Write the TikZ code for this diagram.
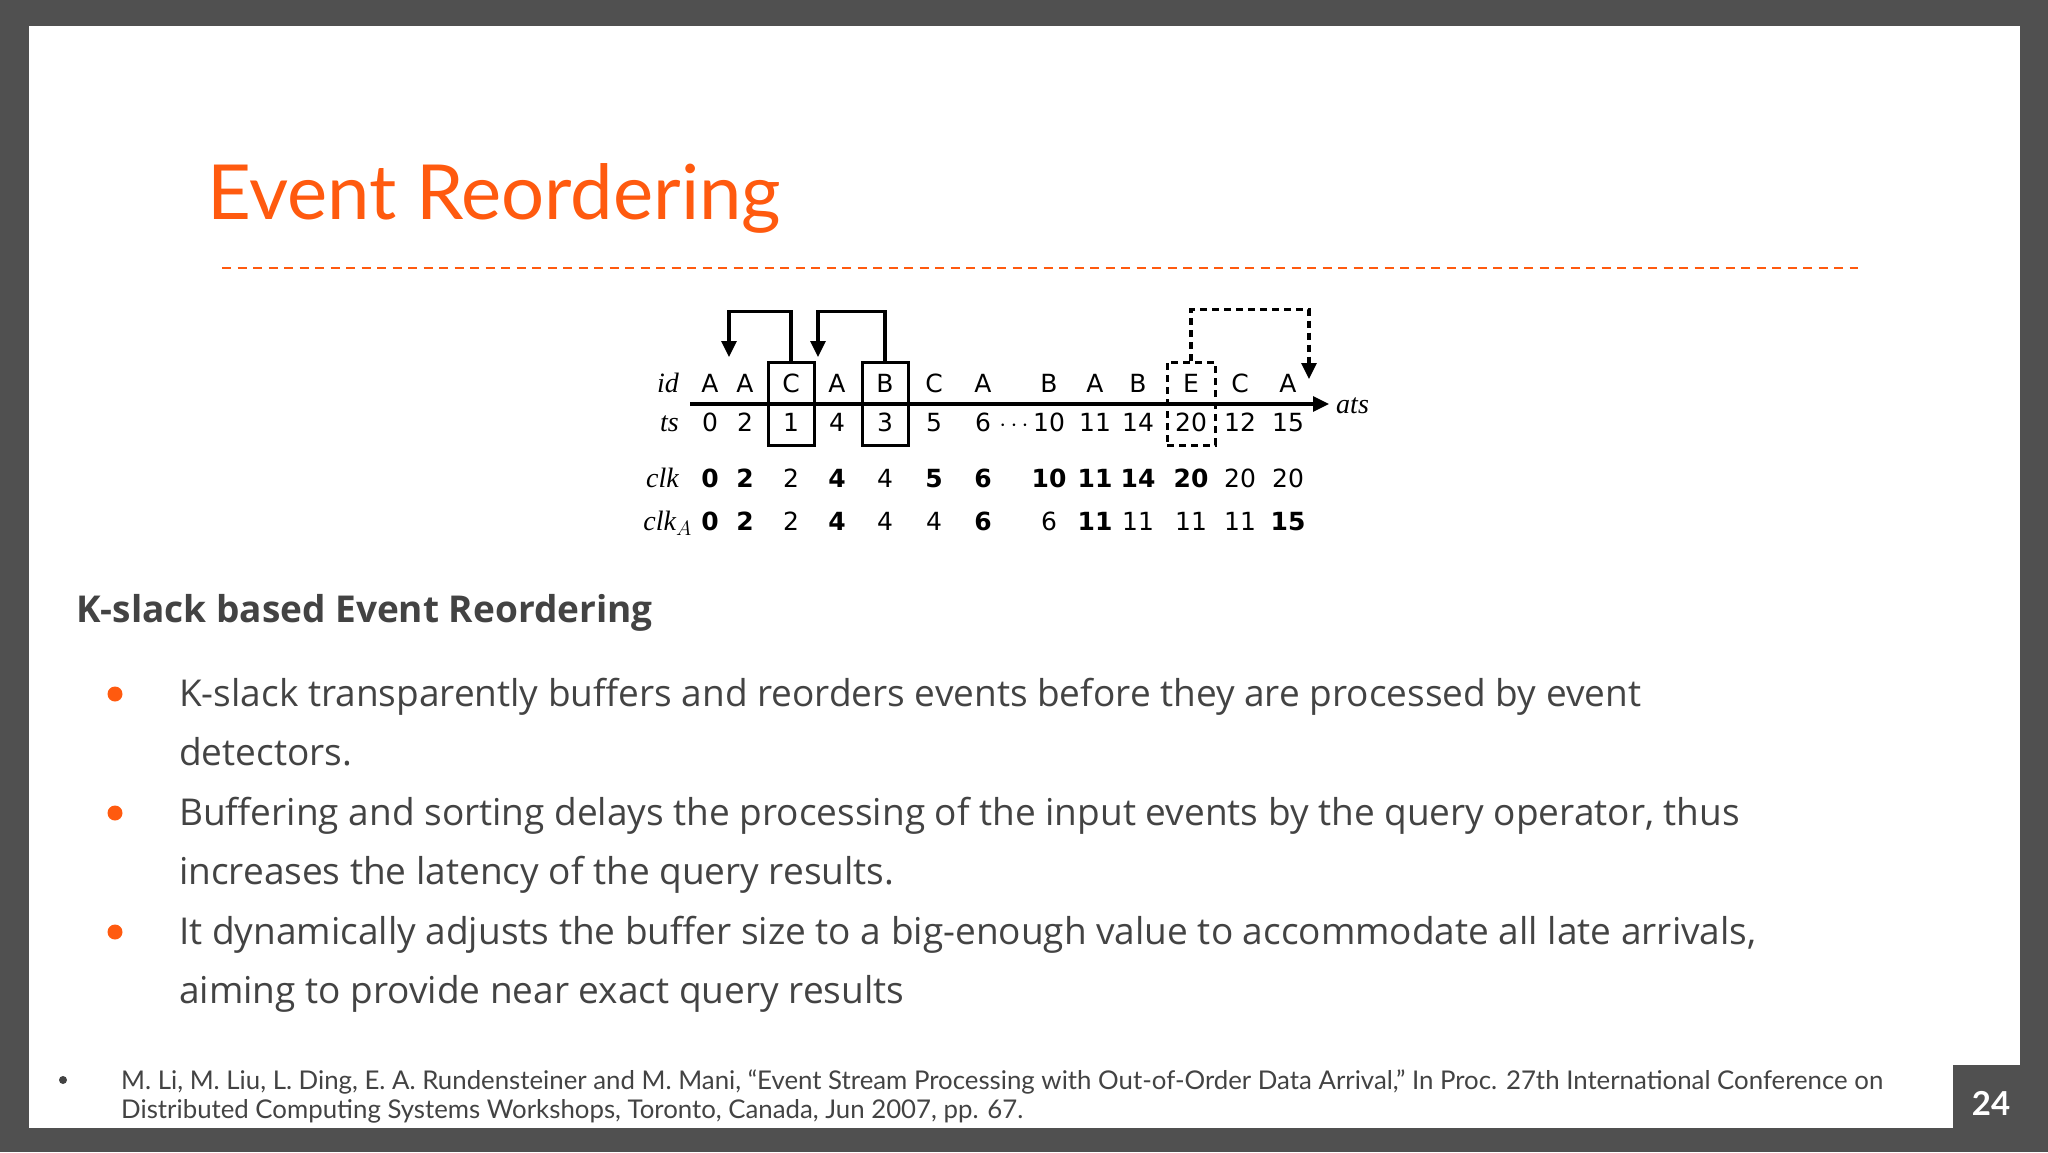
\documentclass[tikz,border=0pt]{standalone}
\usepackage{fontspec}
\setmainfont{Lato}
\newfontfamily\osf{Open Sans}
\newfontfamily\djf{DejaVu Sans}
\newfontfamily\serf{Liberation Serif}
\usetikzlibrary{arrows.meta}
\definecolor{frame}{HTML}{505050}
\definecolor{orng}{HTML}{FF5A0F}
\definecolor{txt}{HTML}{434343}
\begin{document}
\begin{tikzpicture}[x=1pt,y=-1pt,
  dg/.style={font=\djf\fontsize{25}{25}\selectfont,inner sep=0pt,anchor=base},
  dgb/.style={font=\djf\bfseries\fontsize{25}{25}\selectfont,inner sep=0pt,anchor=base},
  lab/.style={font=\serf\itshape\fontsize{28}{28}\selectfont,inner sep=0pt,anchor=base east},
  body/.style={font=\osf\fontsize{37}{37}\selectfont,text=txt,inner sep=0pt,anchor=base west},
  foot/.style={font=\fontsize{25.8}{25.8}\selectfont,text=txt,inner sep=0pt,anchor=base west},
  dot/.style={circle,fill=orng,inner sep=0pt,minimum size=15pt},
  bx/.style={draw,line width=3pt},
  flow/.style={line width=3.2pt,-{Triangle[length=16pt,width=15pt]}}]
\fill[frame] (0,0) rectangle (2048,1152);
\fill[white] (29,26) rectangle (2020,1128);
\fill[frame] (1953,1065) rectangle (2048,1152);
\node[font=\bfseries\fontsize{33}{33}\selectfont,text=white,inner sep=0pt] (pg) at (1991,1103) {24};
% title
\node[font=\fontsize{76}{76}\selectfont,text=orng,inner sep=0pt,anchor=base west] (title) at (207,219) {Event Reordering};
\draw[orng,line width=2pt,dash pattern=on 9pt off 6.5pt] (222,268) -- (1858,268);
% diagram
\coordinate (axs) at (690,404);
\coordinate (axe) at (1329,404);
\draw[flow] (axs) -- (axe);
\node[lab,anchor=base west] (ats) at (1336,413) {ats};
\node[lab] (lid) at (679,392) {id};
\node[lab] (lts) at (679,431) {ts};
\node[lab] (lclk) at (679,487) {clk};
\node[lab] (lclka) at (692,530) {clk$_A$};
\foreach \x/\i/\t/\c/\cb/\a/\ab [count=\n] in {
 710/A/0/0/1/0/1, 745/A/2/2/1/2/1, 791/C/1/2/0/2/0, 837/A/4/4/1/4/1,
 885/B/3/4/0/4/0, 934/C/5/5/1/4/0, 983/A/6/6/1/6/1, 1049/B/10/10/1/6/0,
 1095/A/11/11/1/11/1, 1138/B/14/14/1/11/0, 1191/E/20/20/1/11/0,
 1240/C/12/20/0/11/0, 1288/A/15/20/0/15/1}{
  \node[dg] (id\n) at (\x,392) {\i};
  \node[dg] (ts\n) at (\x,431) {\t};
  \ifnum\cb=1 \node[dgb] (c\n) at (\x,487) {\c};\else \node[dg] (c\n) at (\x,487) {\c};\fi
  \ifnum\ab=1 \node[dgb] (a\n) at (\x,530) {\a};\else \node[dg] (a\n) at (\x,530) {\a};\fi
}
\node[dg] (dots) at (1014,431) {$\cdots$};
\node[bx,minimum width=46pt,minimum height=83pt,inner sep=0pt] (bC) at (791,403.5) {};
\node[bx,minimum width=46pt,minimum height=83pt,inner sep=0pt] (bB) at (885,403.5) {};
\node[bx,dashed,dash pattern=on 7pt off 5pt,minimum width=48pt,minimum height=83pt,inner sep=0pt] (bE) at (1191,403.5) {};
\coordinate (tC) at (729,357);
\coordinate (tB) at (818,357);
\coordinate (tE) at (1309,379);
\draw[flow] (bC.north) -- ++(0,-49) -| (tC);
\draw[flow] (bB.north) -- ++(0,-49) -| (tB);
\draw[flow,dash pattern=on 7pt off 5pt] (bE.north) -- ++(0,-51) -| (tE);
% text
\node[font=\osf\bfseries\fontsize{37}{37}\selectfont,text=txt,inner sep=0pt,anchor=base west] (head) at (76,622) {K-slack based Event Reordering};
\node[dot] (d1) at (115,694) {};
\node[dot] (d2) at (115,813) {};
\node[dot] (d3) at (115,932) {};
\node[body] (l1) at (179,706) {K-slack transparently buffers and reorders events before they are processed by event};
\node[body] (l2) at (179,765) {detectors.};
\node[body] (l3) at (179,825) {Buffering and sorting delays the processing of the input events by the query operator, thus};
\node[body] (l4) at (179,884) {increases the latency of the query results.};
\node[body] (l5) at (179,944) {It dynamically adjusts the buffer size to a big-enough value to accommodate all late arrivals,};
\node[body] (l6) at (179,1003) {aiming to provide near exact query results};
\node[circle,fill=txt,inner sep=0pt,minimum size=8pt] (fd) at (63,1080) {};
\node[foot] (f1) at (121,1089) {M. Li, M. Liu, L. Ding, E. A. Rundensteiner and M. Mani, “Event Stream Processing with Out-of-Order Data Arrival,” In Proc. 27th International Conference on};
\node[foot] (f2) at (121,1118) {Distributed Computing Systems Workshops, Toronto, Canada, Jun 2007, pp. 67.};
\end{tikzpicture}
\end{document}
